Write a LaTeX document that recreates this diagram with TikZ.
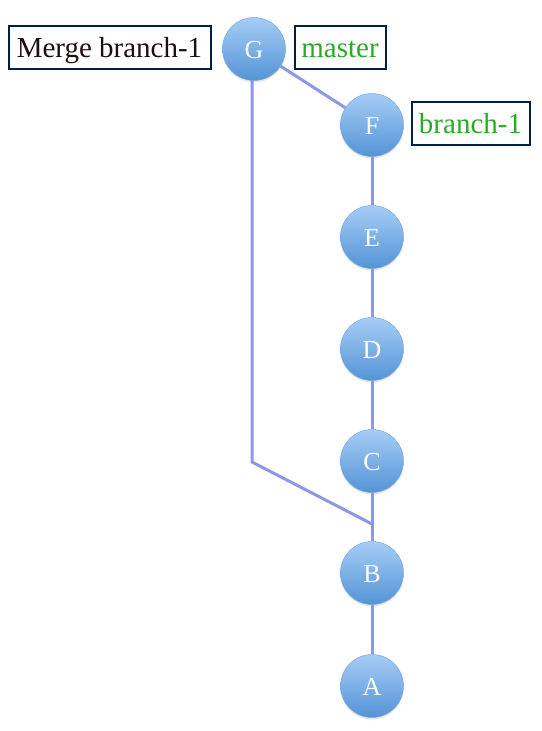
\documentclass[tikz,border=0pt]{standalone}
\usepackage{fontspec}
\setmainfont{Liberation Serif}
\usetikzlibrary{backgrounds,shadows}
\definecolor{linec}{RGB}{140,152,228}
\definecolor{ctop}{RGB}{166,204,246}
\definecolor{cbot}{RGB}{84,148,214}
\definecolor{cedge}{RGB}{120,168,222}
\definecolor{boxc}{RGB}{5,30,70}
\definecolor{greent}{RGB}{40,170,40}
\definecolor{darkt}{RGB}{30,15,15}
\tikzset{
  commit/.style={circle, minimum size=63pt, inner sep=0pt, top color=ctop, bottom color=cbot,
    draw=cedge, line width=0.5pt, text=white, font=\fontsize{26}{26}\selectfont,
    text height=18pt, text depth=0pt,
    drop shadow={opacity=0.18, shadow xshift=0pt, shadow yshift=-2pt}},
  labelbox/.style={draw=boxc, line width=2pt, inner sep=0pt, minimum height=43pt,
    font=\fontsize{29}{29}\selectfont, text height=26pt, text depth=6pt, fill=white},
  conn/.style={draw=linec, line width=3pt}
}
\begin{document}
\begin{tikzpicture}[x=1pt,y=-1pt]
\useasboundingbox (0,0) rectangle (541,731);
\node[commit] (G) at (254,49) {G};
\node[commit] (F) at (372,125) {F};
\node[commit] (E) at (372,237) {E};
\node[commit] (D) at (372,349) {D};
\node[commit] (C) at (372,461) {C};
\node[commit] (B) at (372,573) {B};
\node[commit] (A) at (372,686) {A};
\coordinate (bend) at (252,462);
\coordinate (m) at (372,524);
\node[labelbox, minimum width=202pt, text=darkt] (merge) at (109.5,47) {Merge branch-1};
\node[labelbox, minimum width=91pt, text=greent] (master) at (340,47) {master};
\node[labelbox, minimum width=118pt, text=greent] (br) at (470.5,123.5) {branch-1};
\begin{scope}[on background layer]
\draw[conn] (G) -- (F);
\draw[conn] (F) -- (E);
\draw[conn] (E) -- (D);
\draw[conn] (D) -- (C);
\draw[conn] (C) -- (B);
\draw[conn] (B) -- (A);
\draw[conn, line join=round] (G.center -| bend) -- (bend) -- (m);
\end{scope}
\end{tikzpicture}
\end{document}
